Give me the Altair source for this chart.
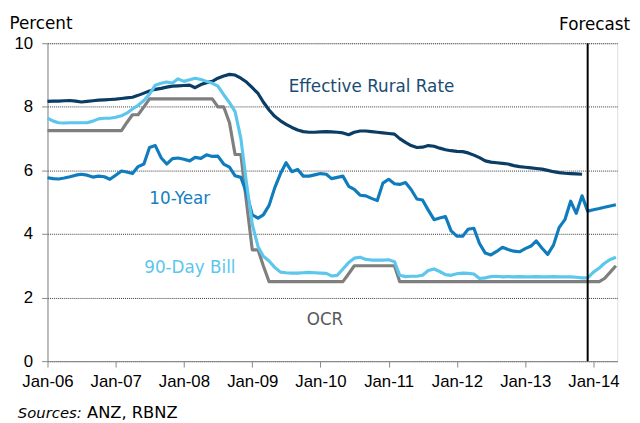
import altair as alt
import pandas as pd

# ---------------- data (monthly, first month Jan-2006) ----------------
START = "2006-01-01"

rural = [8.17, 8.18, 8.18, 8.19, 8.20, 8.18, 8.15, 8.17, 8.19, 8.21,
         8.22, 8.23, 8.24, 8.26, 8.28, 8.30, 8.36, 8.43, 8.50, 8.55,
         8.58, 8.62, 8.65, 8.66, 8.67, 8.68, 8.60, 8.70, 8.76, 8.80,
         8.90, 8.97, 9.02, 9.00, 8.90, 8.78, 8.60, 8.42, 8.15, 7.90,
         7.70, 7.56, 7.45, 7.35, 7.27, 7.22, 7.20, 7.20, 7.21, 7.22,
         7.21, 7.20, 7.18, 7.12, 7.20, 7.24, 7.24, 7.22, 7.20, 7.18,
         7.16, 7.14, 7.00, 6.88, 6.78, 6.72, 6.73, 6.78, 6.76, 6.70,
         6.65, 6.62, 6.60, 6.59, 6.55, 6.48, 6.40, 6.30, 6.26, 6.24,
         6.22, 6.20, 6.15, 6.12, 6.10, 6.08, 6.06, 6.04, 6.00, 5.96,
         5.93, 5.91, 5.90, 5.89, 5.88]

ten_year = [5.77, 5.74, 5.73, 5.76, 5.80, 5.85, 5.88, 5.85, 5.79, 5.82,
            5.80, 5.72, 5.85, 5.98, 5.95, 5.90, 6.12, 6.20, 6.72, 6.78,
            6.40, 6.20, 6.37, 6.39, 6.35, 6.30, 6.41, 6.38, 6.49, 6.44,
            6.45, 6.20, 6.10, 5.83, 5.78, 5.30, 4.60, 4.50, 4.60, 4.90,
            5.45, 5.90, 6.24, 5.96, 6.03, 5.82, 5.82, 5.86, 5.90, 5.88,
            5.74, 5.78, 5.82, 5.50, 5.40, 5.22, 5.20, 5.12, 5.05, 5.60,
            5.72, 5.58, 5.56, 5.62, 5.40, 5.10, 5.07, 4.75, 4.45, 4.50,
            4.55, 4.10, 3.93, 3.93, 4.15, 4.18, 3.70, 3.40, 3.34, 3.45,
            3.58, 3.51, 3.46, 3.44, 3.54, 3.62, 3.78, 3.55, 3.36, 3.65,
            4.20, 4.45, 5.03, 4.65, 5.20, 4.72, 4.76, 4.80, 4.84, 4.88,
            4.92]

bill90 = [7.64, 7.55, 7.50, 7.49, 7.50, 7.50, 7.50, 7.50, 7.55, 7.62,
          7.64, 7.64, 7.67, 7.72, 7.80, 7.93, 8.05, 8.20, 8.40, 8.68,
          8.74, 8.78, 8.75, 8.88, 8.80, 8.85, 8.90, 8.86, 8.80, 8.74,
          8.65, 8.38, 8.13, 7.85, 7.00, 5.60, 4.30, 3.60, 3.30, 3.15,
          2.95, 2.80, 2.78, 2.77, 2.77, 2.78, 2.79, 2.78, 2.77, 2.76,
          2.68, 2.70, 2.90, 3.10, 3.24, 3.27, 3.20, 3.18, 3.18, 3.18,
          3.19, 3.13, 2.70, 2.66, 2.67, 2.67, 2.70, 2.85, 2.90, 2.82,
          2.72, 2.70, 2.75, 2.77, 2.76, 2.74, 2.60, 2.62, 2.66, 2.67,
          2.65, 2.66, 2.65, 2.66, 2.65, 2.65, 2.66, 2.65, 2.65, 2.66,
          2.65, 2.65, 2.65, 2.64, 2.62, 2.62, 2.80, 2.93, 3.08, 3.20,
          3.27]

ocr = ([7.25] * 14 + [7.50, 7.75, 7.75, 8.00] + [8.25] * 12 +
       [8.00, 8.00, 7.50, 6.50, 6.50, 5.00, 3.50, 3.50, 3.00] + [2.50] * 14 +
       [2.75] + [3.00] * 8 + [2.50] * 36 + [2.60, 2.80, 3.00])

series_names = ["OCR", "10-Year", "Effective Rural Rate", "90-Day Bill"]
series_values = [ocr, ten_year, rural, bill90]
series_colors = ["#7f7f7f", "#0f7dbd", "#0b3c63", "#5cc6ec"]

forecast_start = "2013-12-01T00:00:00"

label_text = ["Effective Rural Rate", "10-Year", "90-Day Bill", "OCR"]
label_dates = ["2010-10-01T00:00:00", "2007-12-10T00:00:00",
               "2008-02-02T00:00:00", "2010-01-25T00:00:00"]
label_values = [8.62, 5.09, 2.93, 1.29]
label_colors = ["#1a4b73", "#1480c0", "#5cc6ec", "#595959"]

# ---------------- build tables ----------------
rows = []
for name, vals in zip(series_names, series_values):
    dates = pd.date_range(START, periods=len(vals), freq="MS")
    for d, v in zip(dates, vals):
        rows.append({"date": d.strftime("%Y-%m-%dT00:00:00"), "value": v,
                     "series": name})
df = pd.DataFrame(rows)

labels_df = pd.DataFrame({"text": label_text, "date": label_dates,
                          "value": label_values, "color": label_colors})

FONT = "DejaVu Sans"

x_enc = alt.X(
    "date:T",
    scale=alt.Scale(domain=[alt.DateTime(year=2006, month=1, date=1),
                            alt.DateTime(year=2014, month=5, date=8)]),
    axis=alt.Axis(
        title=None,
        values=[alt.DateTime(year=y, month=1, date=1) for y in range(2006, 2015)],
        format="%b-%y",
        grid=False,
        labelFontSize=17,
        labelPadding=7,
        tickSize=6,
        labelFlush=False,
        labelOverlap=False,
    ),
)

y_enc = alt.Y(
    "value:Q",
    scale=alt.Scale(domain=[0, 10], nice=False),
    axis=alt.Axis(
        title="Percent",
        titleAngle=0,
        titleAlign="left",
        titleBaseline="middle",
        titleX=-39,
        titleY=-20,
        titleFontSize=17,
        titleFontWeight="normal",
        titleFont=FONT,
        titleColor="#000000",
        values=[0, 2, 4, 6, 8, 10],
        grid=True,
        gridDash=[1, 1],
        gridColor="#3a3a3a",
        gridWidth=1,
        labelFontSize=17,
        labelPadding=9,
        tickSize=6,
    ),
)

lines = alt.Chart(df).mark_line(strokeWidth=3.2, strokeJoin="round").encode(
    x=x_enc,
    y=y_enc,
    color=alt.Color("series:N",
                    scale=alt.Scale(domain=series_names, range=series_colors),
                    legend=None),
    order=alt.Order("date:T"),
    detail="series:N",
)

forecast_df = pd.DataFrame({"date": [forecast_start], "text": ["Forecast"]})

forecast_rule = alt.Chart(forecast_df).mark_rule(color="#000000", strokeWidth=2).encode(
    x="date:T",
    y=alt.value(0),
    y2=alt.value(322),
)

forecast_text = alt.Chart(forecast_df).mark_text(
    font=FONT, fontSize=17, align="center", baseline="middle", dx=7, color="#000000"
).encode(
    x="date:T",
    y=alt.value(-18),
    text="text:N",
)

labels = alt.Chart(labels_df).mark_text(
    font=FONT, fontSize=17, align="center", baseline="middle"
).encode(
    x="date:T",
    y="value:Q",
    text="text:N",
    color=alt.Color("color:N", scale=None),
)

src1 = alt.Chart(pd.DataFrame({"t": ["Sources:"]})).mark_text(
    font=FONT, fontSize=15, fontStyle="italic", align="left",
    baseline="alphabetic", color="#000000"
).encode(x=alt.value(-30), y=alt.value(380), text="t:N")

src2 = alt.Chart(pd.DataFrame({"t": ["ANZ, RBNZ"]})).mark_text(
    font=FONT, fontSize=16.5, align="left", baseline="alphabetic", color="#000000"
).encode(x=alt.value(40), y=alt.value(380), text="t:N")

chart = alt.layer(lines, forecast_rule, forecast_text, labels, src1, src2).properties(
    width=577,
    height=322,
    autosize=alt.AutoSizeParams(type="none"),
    padding={"left": 40, "top": 33, "right": 15, "bottom": 63},
).configure_view(
    stroke=None
).configure_axis(
    labelFont=FONT,
    labelColor="#000000",
    domainColor="#333333",
    tickColor="#333333",
    domainWidth=1.2,
).configure(
    background="#ffffff"
)

chart.save("out.html", embed_options={"renderer": "svg", "actions": False})
